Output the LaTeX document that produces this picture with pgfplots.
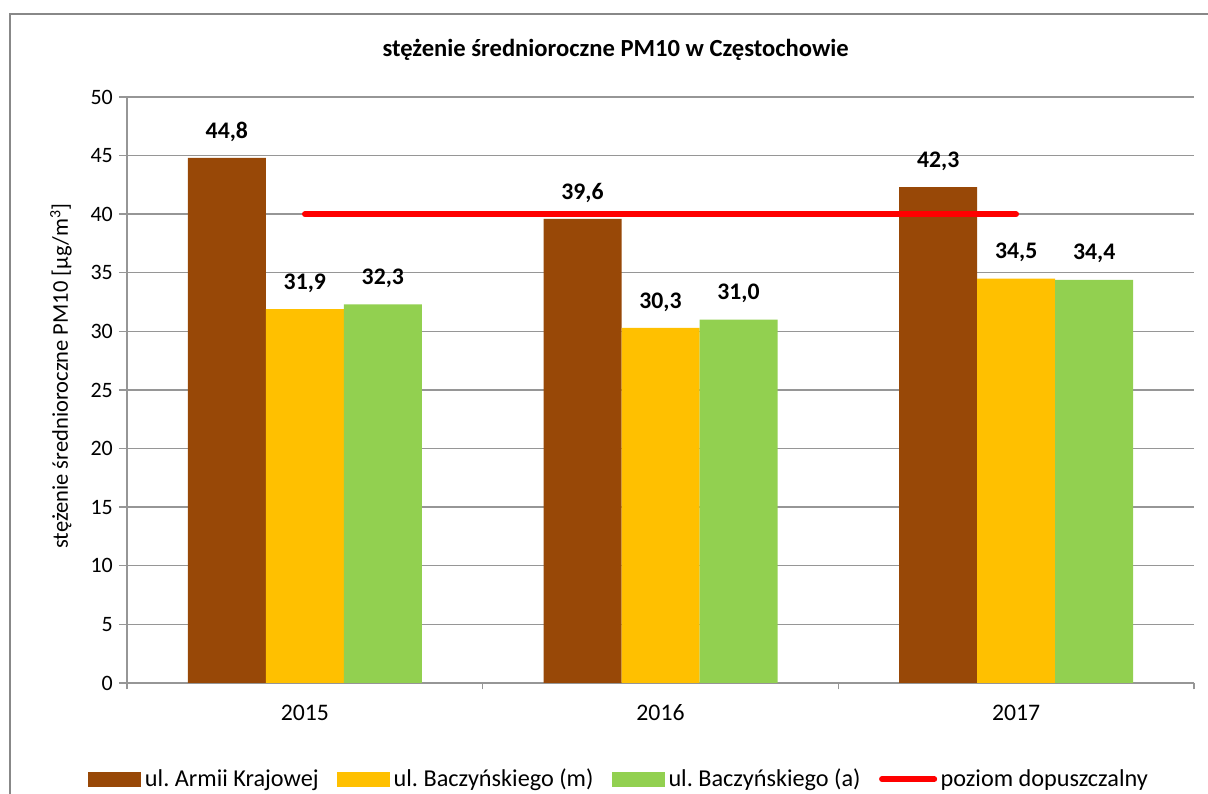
\documentclass[border=0pt]{standalone}
\usepackage{fontspec}
\setmainfont{Carlito}
\usepackage{pgfplots}
\pgfplotsset{compat=1.18}
\frenchspacing
\definecolor{brownc}{HTML}{984807}
\definecolor{yellowc}{HTML}{FFC000}
\definecolor{greenc}{HTML}{92D050}
\definecolor{gridc}{HTML}{969696}
\definecolor{framec}{HTML}{888888}
\begin{document}
\begin{tikzpicture}
\useasboundingbox (0,0) rectangle (24.16cm,15.88cm);
\fill[white] (0,0) rectangle (24.16cm,15.88cm);
\draw[framec, line width=1.2pt] (24.5cm,15.60cm) -- (0.20cm,15.60cm) -- (0.20cm,-0.5cm);
\begin{axis}[
  at={(2.54cm,2.22cm)}, anchor=south west,
  scale only axis, width=21.34cm, height=11.72cm,
  xmin=-0.5, xmax=2.5, ymin=0, ymax=50,
  xtick={0,1,2}, xticklabels={2015,2016,2017},
  minor xtick={-0.5,0.5,1.5,2.5},
  ytick={0,5,...,50},
  axis x line*=bottom, axis y line*=left,
  axis line style={gridc, line width=0.8pt, -},
  tick align=outside,
  major x tick style={draw=none},
  minor x tick style={gridc, line width=0.8pt},
  minor tick length=0.13cm,
  ytick style={gridc, line width=0.8pt},
  major tick length=0.16cm,
  ymajorgrids, grid style={gridc, line width=0.8pt},
  /pgf/number format/assume math mode=true,
  yticklabel style={font=\fontsize{12.5}{14}\selectfont},
  xticklabel style={font=\fontsize{13.5}{15}\selectfont, text height=0.65em, text depth=0pt, yshift=-0.24cm},
  ylabel={stężenie średnioroczne PM10 [µg/m\textsuperscript{3}]},
  every axis y label/.style={at={(axis description cs:-0.0619,0.524)}, rotate=90, anchor=center, font=\fontsize{12.8}{14}\selectfont},
  title={\bfseries stężenie średnioroczne PM10 w Częstochowie},
  every axis title/.style={at={(axis description cs:0.458,1.08)}, anchor=center, font=\fontsize{14}{16}\selectfont},
  legend columns=4,
  legend style={at={(axis description cs:0.462,-0.164)}, anchor=center, draw=none, fill=none,
    font=\fontsize{13.8}{15}\selectfont,
    /tikz/every even column/.append style={column sep=0.3cm},
    nodes={inner xsep=2pt}},
  clip=false,
]
\addplot[ybar, bar width=1.56cm, bar shift=-1.56cm, fill=brownc, draw=none,
  nodes near coords={\pgfmathprintnumber[fixed,fixed zerofill,precision=1,use comma,assume math mode=true]{\pgfplotspointmeta}},
  every node near coord/.append style={font=\bfseries\fontsize{13.5}{16}\selectfont, anchor=center, yshift=0.52cm, xshift=-1.56cm, text=black},
  legend image code/.code={\fill[brownc] (0cm,-0.15cm) rectangle (1.06cm,0.15cm);}]
  coordinates {(0,44.8) (1,39.6) (2,42.3)};
\addlegendentry{ul. Armii Krajowej}
\addplot[ybar, bar width=1.56cm, bar shift=0cm, fill=yellowc, draw=none,
  nodes near coords={\pgfmathprintnumber[fixed,fixed zerofill,precision=1,use comma,assume math mode=true]{\pgfplotspointmeta}},
  every node near coord/.append style={font=\bfseries\fontsize{13.5}{16}\selectfont, anchor=center, yshift=0.52cm, text=black},
  legend image code/.code={\fill[yellowc] (0cm,-0.15cm) rectangle (1.06cm,0.15cm);}]
  coordinates {(0,31.9) (1,30.3) (2,34.5)};
\addlegendentry{ul. Baczyńskiego (m)}
\addplot[ybar, bar width=1.56cm, bar shift=1.56cm, fill=greenc, draw=none,
  nodes near coords={\pgfmathprintnumber[fixed,fixed zerofill,precision=1,use comma,assume math mode=true]{\pgfplotspointmeta}},
  every node near coord/.append style={font=\bfseries\fontsize{13.5}{16}\selectfont, anchor=center, yshift=0.52cm, xshift=1.56cm, text=black},
  legend image code/.code={\fill[greenc] (0cm,-0.15cm) rectangle (1.06cm,0.15cm);}]
  coordinates {(0,32.3) (1,31.0) (2,34.4)};
\addlegendentry{ul. Baczyńskiego (a)}
\addplot[sharp plot, red, line width=3.2pt, line cap=round, mark=none,
  legend image code/.code={\draw[red, line width=3.2pt, line cap=round] (0.05cm,0cm) -- (1.1cm,0cm);}]
  coordinates {(0,40) (2,40)};
\addlegendentry{poziom dopuszczalny}
\end{axis}
\end{tikzpicture}
\end{document}
